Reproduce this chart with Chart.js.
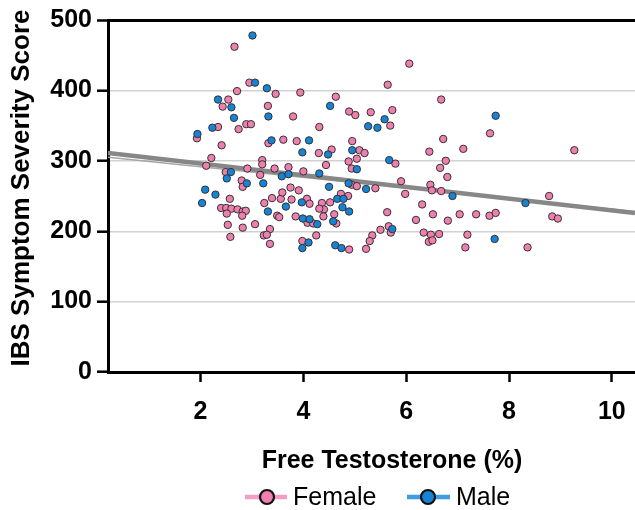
<!DOCTYPE html>
<html><head><meta charset="utf-8">
<script src="https://cdn.jsdelivr.net/npm/chart.js@4"></script>
<style>html,body{margin:0;padding:0;background:#fff;overflow:hidden}</style>
</head><body>
<canvas id="c" width="635" height="510"></canvas>
<script>
// ---- data ----
const femaleX = [2.66,2.95,2.71,3.46,3.94,4.63,2.54,2.43,3.31,4.89,5.01,5.31,3.80,2.34,2.74,2.89,2.98,4.31,1.93,2.41,3.32,3.61,3.87,4.95,4.30,4.55,5.09,5.19,2.21,3.20,3.20,4.88,5.04,2.11,2.91,3.44,3.71,4.44,4.94,2.49,3.16,4.00,2.80,2.82,3.75,3.91,4.94,5.04,5.40,6.06,5.64,6.68,5.73,5.69,7.63,6.72,7.11,6.45,9.27,5.79,6.77,6.66,6.80,5.90,6.47,5.98,6.50,6.68,8.78,6.31,5.63,6.52,7.04,7.36,7.62,7.74,8.84,8.95,6.19,6.81,5.66,5.50,5.70,5.34,5.29,5.22,6.34,6.48,6.64,6.44,6.51,7.19,7.15,8.36,4.89,4.36,4.52,4.73,4.87,4.40,4.39,4.60,4.64,4.31,2.57,2.40,2.50,2.60,2.72,2.82,2.88,2.51,2.81,2.53,2.82,3.06,2.58,3.24,3.39,3.56,3.59,3.77,4.07,4.12,3.49,3.53,3.85,4.08,4.19,3.35,3.23,3.29,3.35,4.25,3.98];
const femaleY = [462,411,399,395,397,391,387,377,378,370,365,369,363,348,345,352,352,348,332,322,325,330,328,328,311,316,315,311,304,301,295,299,303,293,289,289,291,294,289,284,280,285,272,263,262,258,266,264,261,438,408,387,372,350,339,331,317,313,315,296,300,290,277,271,266,253,258,257,250,238,227,224,224,224,222,226,221,218,216,215,207,202,198,194,186,175,198,195,196,185,187,195,177,177,174,240,241,253,250,231,221,224,211,232,246,233,233,232,231,228,229,225,222,209,205,210,192,240,247,246,255,245,246,239,222,220,221,212,211,203,194,195,182,194,186];
const maleX = [3.01,3.06,3.29,2.34,2.60,4.52,2.65,3.32,2.23,5.26,5.44,1.94,3.38,4.11,3.98,4.48,4.95,5.67,5.58,7.74,5.04,2.59,2.51,3.58,3.71,4.31,2.90,3.22,2.09,4.50,4.88,5.22,2.29,2.03,4.66,4.78,4.76,4.89,3.66,3.97,3.31,3.99,4.12,4.27,4.58,5.73,6.90,8.32,7.72,4.10,3.98,4.62,4.74];
const maleY = [478,411,403,387,376,378,361,363,347,349,347,338,329,329,312,309,315,301,359,364,288,284,275,278,281,282,268,268,259,263,268,260,252,240,246,246,234,228,235,241,228,218,217,210,214,203,250,240,189,184,176,180,176];
const fitX = [0.2, 10.45];
const fitFemaleY = [305, 228];
const fitMaleY = [311, 226];
const xTicks = [2,4,6,8,10];
const yTicks = [0,100,200,300,400,500];
const xTitle = 'Free Testosterone (%)';
const yTitle = 'IBS Symptom Severity Score';
const seriesNames = ['Female','Male'];

const PINK = '#f07fb0', BLUE = '#1683d5', EDGE = '#333333';
const pts = (xs, ys) => xs.map((x, i) => ({x, y: ys[i]}));

const overlay = {
  id: 'overlay',
  afterDraw(chart) {
    const ctx = chart.ctx;
    ctx.save();
    ctx.fillStyle = '#000';
    ctx.textAlign = 'center';
    ctx.textBaseline = 'middle';
    ctx.font = 'bold 25px "Liberation Sans", Arial, sans-serif';
    ctx.fillText(xTitle, 392, 461);
    ctx.save();
    ctx.translate(22, 188);
    ctx.rotate(-Math.PI / 2);
    ctx.font = 'bold 26px "Liberation Sans", Arial, sans-serif';
    ctx.fillText(yTitle, 0, 0);
    ctx.restore();
    // legend
    const items = [
      {name: seriesNames[0], fill: PINK, line: '#f59cc4', x0: 245, x1: 287, cx: 267, tx: 293},
      {name: seriesNames[1], fill: BLUE, line: '#3d9de3', x0: 407, x1: 450, cx: 428, tx: 456}
    ];
    const ly = 497;
    ctx.font = '25px "Liberation Sans", Arial, sans-serif';
    ctx.textAlign = 'left';
    items.forEach(it => {
      ctx.strokeStyle = it.line; ctx.lineWidth = 4.5;
      ctx.beginPath(); ctx.moveTo(it.x0, ly); ctx.lineTo(it.x1, ly); ctx.stroke();
      ctx.fillStyle = it.fill; ctx.strokeStyle = '#111'; ctx.lineWidth = 2.2;
      ctx.beginPath(); ctx.arc(it.cx, ly, 7, 0, Math.PI * 2); ctx.fill(); ctx.stroke();
      ctx.fillStyle = '#000';
      ctx.fillText(it.name, it.tx, ly + 1);
    });
    ctx.restore();
  }
};

new Chart(document.getElementById('c'), {
  type: 'scatter',
  data: {
    datasets: [
      {type: 'line', data: pts(fitX, fitFemaleY), borderColor: '#a6a6a6', borderWidth: 1.5, pointRadius: 0, fill: false, order: 4},
      {type: 'line', data: pts(fitX, fitMaleY), borderColor: '#878787', borderWidth: 4.5, pointRadius: 0, fill: false, order: 3},
      {label: seriesNames[0], data: pts(femaleX, femaleY), backgroundColor: PINK, borderColor: EDGE, borderWidth: 1, pointRadius: 3.7, order: 2},
      {label: seriesNames[1], data: pts(maleX, maleY), backgroundColor: BLUE, borderColor: EDGE, borderWidth: 1, pointRadius: 3.7, order: 1}
    ]
  },
  options: {
    responsive: false,
    animation: false,
    devicePixelRatio: 1,
    layout: {autoPadding: false, padding: {top: 20, right: 0, bottom: 0, left: 0}},
    plugins: {legend: {display: false}, tooltip: {enabled: false}},
    scales: {
      x: {
        type: 'linear', min: 0.2, max: 10.45,
        afterBuildTicks: s => { s.ticks = xTicks.map(v => ({value: v})); },
        afterFit: s => { s.height = 138; s.paddingLeft = 0; s.paddingRight = 0; },
        border: {color: '#000', width: 3},
        grid: {drawOnChartArea: false, drawTicks: true, tickLength: 10, tickWidth: 2.5, tickColor: '#000'},
        ticks: {color: '#000', padding: 15, maxRotation: 0, font: {family: '"Liberation Sans", Arial, sans-serif', size: 25, weight: 'bold'}}
      },
      y: {
        type: 'linear', min: 0, max: 500,
        afterBuildTicks: s => { s.ticks = yTicks.map(v => ({value: v})); },
        afterFit: s => { s.width = 108; s.paddingTop = 0; s.paddingBottom = 0; },
        border: {color: '#000', width: 3},
        grid: {
          drawTicks: true, tickLength: 11, tickWidth: 2.5, tickColor: '#000',
          color: c => c.tick.value === 500 ? '#000' : (c.tick.value === 0 ? 'rgba(0,0,0,0)' : '#d2d2d2'),
          lineWidth: c => c.tick.value === 500 ? 3 : 1.4
        },
        ticks: {color: '#000', padding: 5, font: {family: '"Liberation Sans", Arial, sans-serif', size: 25, weight: 'bold'}}
      }
    }
  },
  plugins: [overlay]
});
</script>
</body></html>
